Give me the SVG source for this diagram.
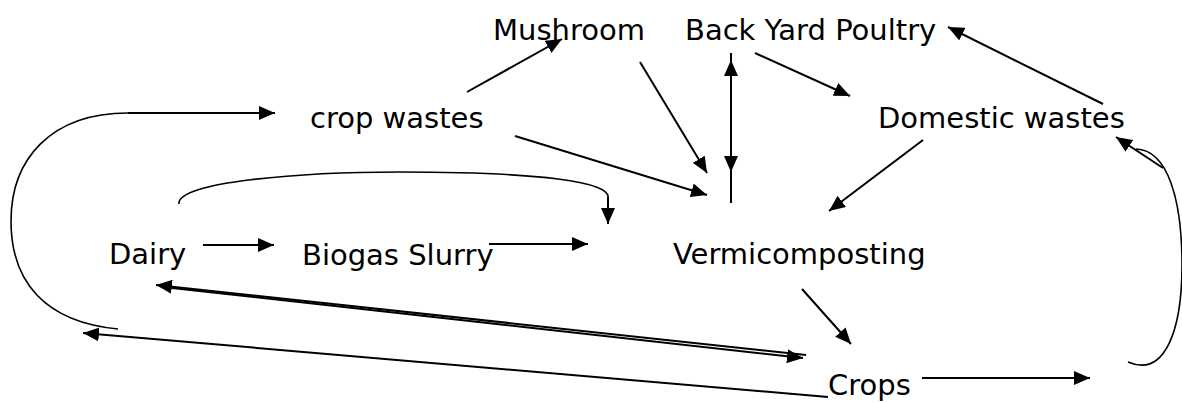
<svg xmlns="http://www.w3.org/2000/svg" width="1182" height="403" viewBox="0 0 1182 403">
<style>
text{font-family:"DejaVu Sans","Liberation Sans",sans-serif;font-size:29px;fill:#000}
.c{fill:none;stroke:#000;stroke-width:2}
.a{fill:none;stroke:#000;stroke-width:1.6}
</style>
<defs>
<marker id="ah" markerUnits="userSpaceOnUse" markerWidth="16" markerHeight="14" refX="16" refY="7" orient="auto" viewBox="0 0 16 14">
<path d="M0,0 L16,7 L0,14 z" fill="#000"/>
</marker>
</defs>
<rect width="1182" height="403" fill="#fff"/>
<g id="n-mushroom"><text x="493" y="40">Mushroom</text></g>
<g id="n-poultry"><text x="685" y="40">Back Yard Poultry</text></g>
<g id="n-cropwastes"><text x="310" y="128">crop wastes</text></g>
<g id="n-domestic"><text x="878" y="128">Domestic wastes</text></g>
<g id="n-dairy"><text x="109" y="264">Dairy</text></g>
<g id="n-biogas"><text x="302" y="265">Biogas Slurry</text></g>
<g id="n-vermi"><text x="673" y="264">Vermicomposting</text></g>
<g id="n-crops"><text x="828" y="395">Crops</text></g>
<g id="connectors">
<path class="a" d="M118,329 C45,322 11,282 11,221 C11,160 50,113 128,113"/>
<path class="c" d="M128,113 L275,113" marker-end="url(#ah)"/>
<path class="c" d="M828,397 L83,333" marker-end="url(#ah)"/>
<path class="c" d="M806,355 L156,285" marker-end="url(#ah)"/>
<path class="c" d="M172,288 L803,358" marker-end="url(#ah)"/>
<path class="c" d="M922,378 L1090,378" marker-end="url(#ah)"/>
<path class="a" d="M1128,362 C1165,378 1182,330 1182,265 C1182,200 1168,150 1136,149"/>
<path class="c" d="M1163,168 L1116,137" marker-end="url(#ah)"/>
<path class="c" d="M467,92 L562,39" marker-end="url(#ah)"/>
<path class="c" d="M640,62 L707,173" marker-end="url(#ah)"/>
<path class="c" d="M515,136 L707,195" marker-end="url(#ah)"/>
<path class="c" d="M731,203 L731,60" marker-end="url(#ah)"/>
<path class="c" d="M731,53 L731,172" marker-end="url(#ah)"/>
<path class="c" d="M755,53 L850,96" marker-end="url(#ah)"/>
<path class="c" d="M1103,104 L948,27" marker-end="url(#ah)"/>
<path class="c" d="M923,140 L829,211" marker-end="url(#ah)"/>
<path class="c" d="M802,289 L851,344" marker-end="url(#ah)"/>
<path class="c" d="M203,245 L274,245" marker-end="url(#ah)"/>
<path class="c" d="M489,244 L588,244" marker-end="url(#ah)"/>
<path class="a" d="M179,204 C176,182 300,172 400,172 C540,172 612,182 608,198"/>
<path class="c" d="M608,197 L608,224" marker-end="url(#ah)"/>
</g>
</svg>
